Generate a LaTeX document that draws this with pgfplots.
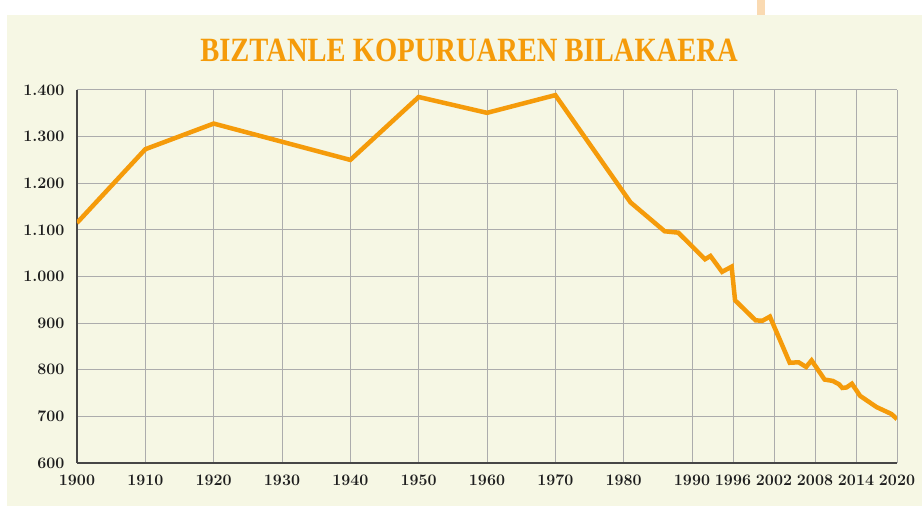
\documentclass[border=0pt]{standalone}
\usepackage{fontspec}
\usepackage{pgfplots}
\pgfplotsset{compat=1.18}
\newfontfamily\titlefont{Liberation Serif}
\definecolor{bg}{RGB}{246,247,228}
\definecolor{lineor}{RGB}{245,155,10}
\definecolor{gridc}{RGB}{172,172,172}
\definecolor{axc}{RGB}{70,70,70}
\definecolor{deco}{RGB}{250,218,178}
\begin{document}
\begin{tikzpicture}
\fill[white] (-77pt,-43pt) rectangle (845pt,463pt);
\fill[bg] (-70pt,-43pt) rectangle (845pt,448pt);
\fill[deco] (680pt,448pt) rectangle (688pt,463pt);
\node[anchor=base, text=lineor, font=\titlefont\bfseries\fontsize{34}{34}\selectfont, xscale=0.84, inner sep=0pt] at (392pt,401pt) {BIZTANLE KOPURUAREN BILAKAERA};
\begin{axis}[
  at={(0pt,0pt)}, anchor=south west, scale only axis,
  width=820pt, height=373pt,
  xmin=1900, xmax=2020, ymin=600, ymax=1400,
  axis x line*=bottom, axis y line*=left,
  axis line style={axc, line width=1.8pt, -},
  grid=major, major grid style={gridc, line width=1pt},
  major tick length=0pt,
  xtick={1900,1910,...,1990,1996,2002,2008,2014,2020},
  ytick={600,700,...,1400},
  tick label style={font=\bfseries\fontsize{16}{16}\selectfont, text={rgb,255:red,30;green,30;blue,30}, /pgf/number format/assume math mode=true},
  x tick label style={/pgf/number format/1000 sep={}, yshift=-8pt},
  y tick label style={/pgf/number format/1000 sep={.}, xshift=-9pt},
]
\addplot[lineor, line width=4.5pt, mark=none] coordinates {
(1900,1115) (1910,1273) (1920,1328) (1940,1250) (1950,1385) (1960,1351)
(1970,1389) (1981,1159) (1986,1097) (1988,1094) (1991.9,1037) (1992.7,1044)
(1994.4,1010) (1995.8,1021) (1996.3,949) (1999.3,906) (2000.3,905) (2001.4,914)
(2004.3,815) (2005.6,816) (2006.7,806) (2007.5,820) (2009.4,779) (2010.6,776)
(2011.5,769) (2012,761) (2012.6,762) (2013.4,770) (2014.6,744) (2017,720)
(2019.2,705) (2020,694)
};
\end{axis}
\pgfresetboundingbox
\path (-77pt,-43pt) rectangle (845pt,463pt);
\end{tikzpicture}
\end{document}
